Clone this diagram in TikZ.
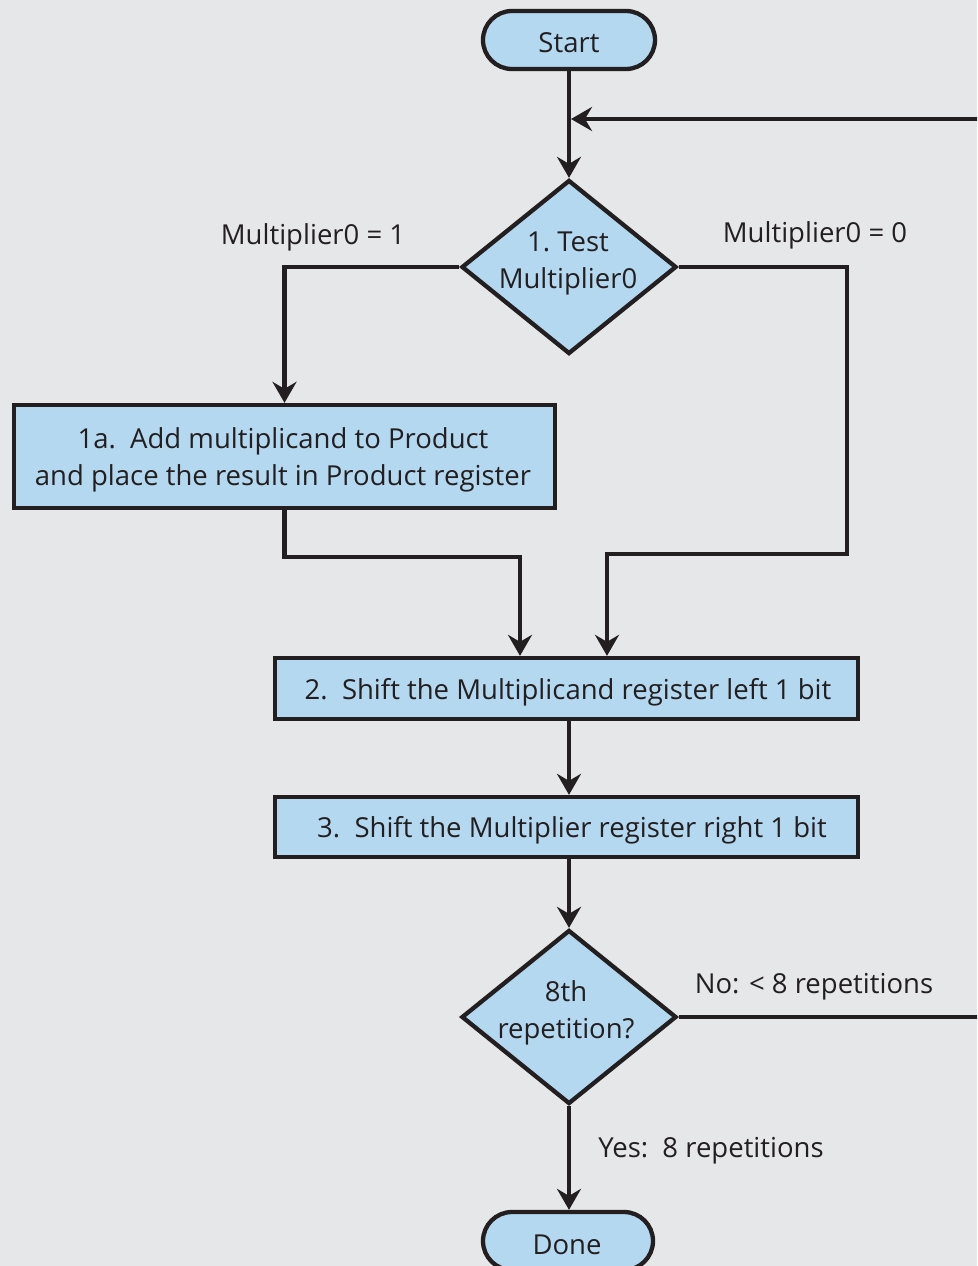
\documentclass[tikz,border=0pt]{standalone}
\usepackage{fontspec}
\setmainfont{Open Sans}
\usetikzlibrary{arrows.meta,shapes.geometric}
\definecolor{bgcol}{HTML}{E6E7E9}
\definecolor{boxfill}{HTML}{B3D8F0}
\definecolor{ink}{HTML}{231F20}
\tikzset{
  base/.style={draw=ink, line width=4.3pt, fill=boxfill, inner sep=0pt},
  terminal/.style={base, rectangle, rounded corners=29pt, minimum width=172pt, minimum height=58pt},
  stepbox/.style={base, rectangle},
  decision/.style={base, diamond, minimum width=215pt, minimum height=174pt},
  txt/.style={text=ink, font=\fontsize{27.5}{37}\selectfont, align=center, inner sep=0pt, yshift=-3pt},
  flow/.style={draw=ink, line width=4.3pt},
  arr/.style={flow, -{Stealth[length=21pt,width=24pt,inset=7pt]}},
}
\begin{document}
\begin{tikzpicture}[x=1pt,y=-1pt]
\fill[bgcol] (0,0) rectangle (977,1266);
\useasboundingbox (0,0) rectangle (977,1266);
\begin{scope}
\clip (0,0) rectangle (977,1266);

% nodes
\node[terminal] (start) at (569,40) {};
\node[txt] at (start) {Start};

\node[decision] (d1) at (569,267) {};
\node[txt] at (568,260) {1.\ Test\\Multiplier0};

\node[stepbox, minimum width=541pt, minimum height=103pt] (b1a) at (284.5,456.5) {};
\node[txt] at (283,457) {1a.\ \ Add multiplicand to Product\\and place the result in Product register};

\node[stepbox, minimum width=583pt, minimum height=61pt] (b2) at (566.5,688.5) {};
\node[txt] at (568,689) {2.\ \ Shift the Multiplicand register left 1 bit};

\node[stepbox, minimum width=583pt, minimum height=60pt] (b3) at (566.5,827) {};
\node[txt] at (572,827) {3.\ \ Shift the Multiplier register right 1 bit};

\node[decision] (d2) at (569,1017) {};
\node[txt] at (566,1010) {8th\\repetition?};

\node[terminal, minimum width=170pt] (done) at (568,1241) {};
\node[txt] at (567,1242) {Done};

% branch labels
\node[txt] (l1) at (313,234) {Multiplier0 = 1};
\node[txt] (l0) at (815,232) {Multiplier0 = 0};
\node[txt] (lno) at (814,984) {No: < 8 repetitions};
\node[txt] (lyes) at (711,1148) {Yes:\ \ 8 repetitions};

% junction points
\coordinate (merge) at (571,119);
\coordinate (r1) at (847,554);
\coordinate (j1) at (520,557);
\coordinate (loopR) at (995,1017);

% connectors
\draw[arr] (start.south -| d1.north) -- (d1.north);
\draw[arr] (d1.west) -| (b1a.north);
\draw[arr] (d1.east) -| (r1) -| ([xshift=40.5pt]b2.north);
\draw[arr] (b1a.south) |- (j1) -- ([xshift=-46.5pt]b2.north);
\draw[arr] (b2.south -| d1.north) -- (b3.north -| d1.north);
\draw[arr] (b3.south -| d2.north) -- (d2.north);
\draw[arr] (d2.south) -- (done.north -| d2.south);
\draw[arr] (d2.east) -- (loopR) |- (merge);
\end{scope}
\end{tikzpicture}
\end{document}
